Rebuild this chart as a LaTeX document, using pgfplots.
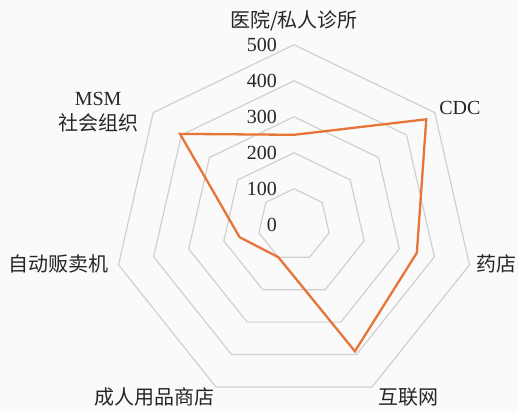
\documentclass[border=0pt]{standalone}
\usepackage{fontspec}
\setmainfont{Liberation Serif}
\newfontfamily\cjk{Noto Sans CJK SC}
\usepackage{pgfplots}
\pgfplotsset{compat=1.18}
\definecolor{radarorange}{RGB}{232,117,56}
\definecolor{gridgray}{RGB}{208,208,208}
\definecolor{txt}{RGB}{38,38,38}
\definecolor{bg}{RGB}{250,250,250}
\tikzset{lbl/.style={font=\fontsize{20}{23}\selectfont, text=txt, inner sep=0pt}}
\begin{document}
\begin{tikzpicture}
\fill[bg] (-294pt,-187.2pt) rectangle (224pt,224.8pt);
\begin{axis}[
  anchor=origin, at={(0pt,0pt)},
  x=0.36pt, y=0.36pt,
  xmin=-816.7, xmax=622.2, ymin=-520, ymax=624.4,
  hide axis, clip=false,
]
% grid heptagons
\addplot[gridgray, line width=1.2pt, data cs=polar] coordinates {(90,100) (38.571,100) (-12.857,100) (-64.286,100) (-115.714,100) (-167.143,100) (-218.571,100) (90,100) (38.571,100)};
\addplot[gridgray, line width=1.2pt, data cs=polar] coordinates {(90,200) (38.571,200) (-12.857,200) (-64.286,200) (-115.714,200) (-167.143,200) (-218.571,200) (90,200) (38.571,200)};
\addplot[gridgray, line width=1.2pt, data cs=polar] coordinates {(90,300) (38.571,300) (-12.857,300) (-64.286,300) (-115.714,300) (-167.143,300) (-218.571,300) (90,300) (38.571,300)};
\addplot[gridgray, line width=1.2pt, data cs=polar] coordinates {(90,400) (38.571,400) (-12.857,400) (-64.286,400) (-115.714,400) (-167.143,400) (-218.571,400) (90,400) (38.571,400)};
\addplot[gridgray, line width=1.2pt, data cs=polar] coordinates {(90,500) (38.571,500) (-12.857,500) (-64.286,500) (-115.714,500) (-167.143,500) (-218.571,500) (90,500) (38.571,500)};
% data series
\addplot[radarorange, line width=2.3pt, line join=miter, data cs=polar] coordinates {(90,250) (38.571,470) (-12.857,350) (-64.286,390) (-115.714,100) (-167.143,155) (-218.571,405) (90,250) (38.571,470)};
% radial tick labels
\node[lbl, anchor=east] at (axis cs:-47,0) {0};
\node[lbl, anchor=east] at (axis cs:-47,100) {100};
\node[lbl, anchor=east] at (axis cs:-47,200) {200};
\node[lbl, anchor=east] at (axis cs:-47,300) {300};
\node[lbl, anchor=east] at (axis cs:-47,400) {400};
\node[lbl, anchor=east] at (axis cs:-47,500) {500};
% category labels
\node[lbl] at (axis cs:0,567) {\cjk 医院/私人诊所};
\node[lbl] at (axis cs:461,325) {CDC};
\node[lbl] at (axis cs:562,-108) {\cjk 药店};
\node[lbl] at (axis cs:319,-478) {\cjk 互联网};
\node[lbl] at (axis cs:-388,-478) {\cjk 成人用品商店};
\node[lbl] at (axis cs:-653,-108) {\cjk 自动贩卖机};
\node[lbl, align=center] at (axis cs:-544,314) {MSM\\[2pt]{\cjk 社会组织}};
\end{axis}
\pgfresetboundingbox
\path[use as bounding box] (-294pt,-187.2pt) rectangle (224pt,224.8pt);
\end{tikzpicture}
\end{document}
